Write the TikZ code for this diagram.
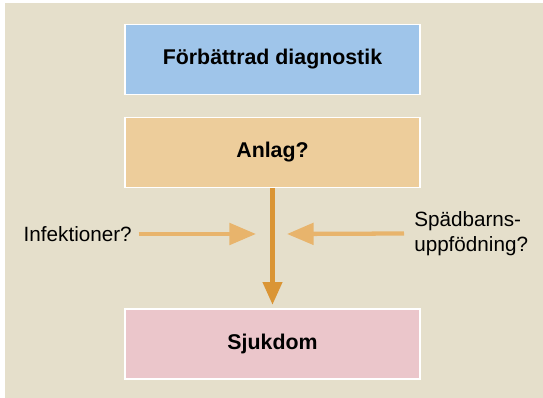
\documentclass[tikz,border=0pt]{standalone}
\usepackage{fontspec}
\setmainfont{Liberation Sans}
\usetikzlibrary{arrows.meta}

\definecolor{bgbeige}{HTML}{E5DFCB}
\definecolor{boxblue}{HTML}{9FC5EA}
\definecolor{boxorange}{HTML}{EDCD9B}
\definecolor{boxpink}{HTML}{EBC6CB}
\definecolor{arrowdark}{HTML}{DA9535}
\definecolor{arrowlight}{HTML}{E8B46C}

\begin{document}
\begin{tikzpicture}[
    x=0.75pt, y=-0.75pt,
    box/.style={rectangle, draw=white, line width=1.2pt, minimum width=221pt, minimum height=52.5pt, align=center, font=\fontsize{16}{19}\selectfont\bfseries},
    label/.style={inner sep=0pt, font=\fontsize{15.5}{18.75}\selectfont},
    mainarrow/.style={-{Triangle[length=17pt, width=14pt]}, line width=3.5pt, draw=arrowdark},
    sidearrow/.style={-{Triangle[length=20pt, width=16pt]}, line width=3.2pt, draw=arrowlight}
]
\useasboundingbox (0,0) rectangle (543,398);
\fill[bgbeige] (5,3) rectangle (543,398);

% Boxes
\node[box, fill=boxblue] (diagnostik) at (272.5,59.5) {Förbättrad diagnostik};
\node[box, fill=boxorange] (anlag) at (272.5,152.5) {Anlag?};
\node[box, fill=boxpink] (sjukdom) at (272.5,344) {Sjukdom};

% Side factors
\node[label, anchor=east] (infektioner) at (132,234) {Infektioner?};
\node[label, anchor=west, align=left] (uppfodning) at (414,233.5) {Spädbarns-\\uppfödning?};
\coordinate (leftend) at (256,234);
\coordinate (rightend) at (287,234);

% Arrows
\draw[mainarrow] (anlag.south) -- ([yshift=2.5pt]sjukdom.north);
\draw[sidearrow] ([xshift=5pt]infektioner.east) -- (leftend);
\draw[sidearrow] ([xshift=-7.5pt]uppfodning.west) -- (rightend);

\end{tikzpicture}
\end{document}
